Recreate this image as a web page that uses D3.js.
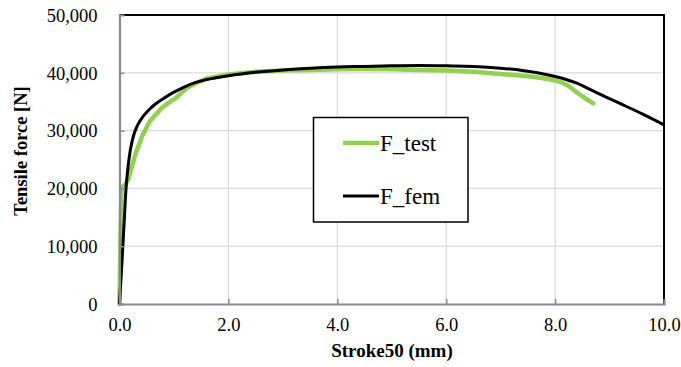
<!DOCTYPE html>
<html>
<head>
<meta charset="utf-8">
<script src="https://cdn.jsdelivr.net/npm/d3@7"></script>
<style>
  html, body { margin: 0; padding: 0; background: #fff; }
  svg { display: block; }
</style>
</head>
<body>
<svg id="chart" width="681" height="367" font-family="Liberation Serif, Times New Roman, serif"></svg>
<script>
// Tensile test vs. FEM: force against stroke (mm)
const testStroke = [0, 0.01, 0.02, 0.03, 0.04, 0.1, 0.16, 0.22, 0.27, 0.31, 0.36, 0.42, 0.46, 0.5, 0.55, 0.62, 0.7, 0.77, 0.9, 1.03, 1.12, 1.23, 1.4, 1.6, 2.0, 2.5, 3.0, 3.5, 4.0, 4.5, 5.0, 5.5, 6.0, 6.5, 7.0, 7.5, 7.75, 8.0, 8.1, 8.25, 8.4, 8.55, 8.7];
const testForce  = [0, 6000, 12000, 17000, 20200, 20600, 21500, 23500, 25200, 26400, 27600, 29200, 29800, 30600, 31500, 32300, 33100, 33860, 34800, 35600, 36400, 37300, 38200, 39000, 39700, 40200, 40400, 40500, 40600, 40650, 40600, 40500, 40400, 40200, 39800, 39400, 39100, 38700, 38400, 37700, 36600, 35600, 34700];

const femStroke = [0, 0.05, 0.09, 0.12, 0.16, 0.2, 0.26, 0.33, 0.42, 0.52, 0.66, 0.84, 1.0, 1.14, 1.3, 1.5, 1.75, 2.0, 2.5, 3.0, 3.5, 4.0, 4.5, 5.0, 5.5, 6.0, 6.5, 7.0, 7.4, 7.7, 8.0, 8.2, 8.4, 8.6, 8.83, 9.2, 9.6, 10.0];
const femForce  = [0, 8000, 15000, 20000, 24000, 26700, 29200, 30900, 32300, 33400, 34600, 35750, 36650, 37300, 38000, 38600, 39100, 39500, 40100, 40500, 40800, 41000, 41100, 41200, 41250, 41200, 41100, 40800, 40400, 39950, 39350, 38850, 38200, 37300, 36250, 34650, 32900, 31000];

const xTicks = [0, 2, 4, 6, 8, 10];
const yTicks = [0, 10000, 20000, 30000, 40000, 50000];
const seriesNames = ["F_test", "F_fem"];
const seriesColors = ["#92d050", "#000000"];

const SERIF = "Liberation Serif, Times New Roman, serif";
const plot = { left: 119.5, right: 664, top: 15, bottom: 304 };

const svg = d3.select("#chart");
const x = d3.scaleLinear().domain([0, 10]).range([plot.left, plot.right]);
const y = d3.scaleLinear().domain([0, 50000]).range([plot.bottom, plot.top]);

// grid
const grid = svg.append("g");
grid.selectAll("line.v").data(xTicks.slice(1, -1)).join("line")
  .attr("x1", d => x(d)).attr("x2", d => x(d))
  .attr("y1", plot.top).attr("y2", plot.bottom)
  .attr("stroke", "#d9d9d9").attr("stroke-width", 1.2);
grid.selectAll("line.h").data(yTicks.slice(1, -1)).join("line")
  .attr("x1", plot.left).attr("x2", plot.right)
  .attr("y1", d => y(d)).attr("y2", d => y(d))
  .attr("stroke", "#d9d9d9").attr("stroke-width", 1.2);

// plot frame (top and right)
svg.append("path")
  .attr("d", `M${plot.left},${plot.top}H${plot.right}V${plot.bottom}`)
  .attr("fill", "none").attr("stroke", "#000").attr("stroke-width", 2);

// series
const toPts = (xs, ys) => xs.map((v, i) => [v, ys[i]]);

svg.append("path")
  .datum(toPts(testStroke, testForce))
  .attr("d", d3.line().x(d => x(d[0])).y(d => y(d[1])).curve(d3.curveLinear))
  .attr("fill", "none").attr("stroke", seriesColors[0])
  .attr("stroke-width", 4.5).attr("stroke-linejoin", "round").attr("stroke-linecap", "round");

svg.append("path")
  .datum(toPts(femStroke, femForce))
  .attr("d", d3.line().x(d => x(d[0])).y(d => y(d[1])).curve(d3.curveMonotoneX))
  .attr("fill", "none").attr("stroke", seriesColors[1])
  .attr("stroke-width", 3).attr("stroke-linejoin", "round");

// axes
const xAxis = d3.axisBottom(x).tickValues(xTicks).tickSize(-5).tickPadding(14)
  .tickFormat(d3.format(".1f"));
const yAxis = d3.axisLeft(y).tickValues(yTicks).tickSize(-5).tickPadding(22)
  .tickFormat(d => d === 0 ? "0" : d3.format(",")(d));

const gx = svg.append("g").attr("transform", `translate(0,${plot.bottom})`).call(xAxis);
const gy = svg.append("g").attr("transform", `translate(${plot.left},0)`).call(yAxis);

[gx, gy].forEach(g => {
  g.attr("font-family", SERIF).attr("font-size", 18.5);
  g.select(".domain").attr("stroke", "#898989").attr("stroke-width", 2.2);
  g.selectAll(".tick line").attr("stroke", "#898989").attr("stroke-width", 1.5);
  g.selectAll(".tick text").attr("fill", "#000");
});
gx.selectAll(".tick line").filter(d => d === 0 || d === 10).remove();
gy.selectAll(".tick line").filter(d => d === 0 || d === 50000).remove();
gy.selectAll(".tick text").attr("dy", "0.34em");

// axis titles
svg.append("text")
  .attr("transform", "translate(27,151) rotate(-90)")
  .attr("text-anchor", "middle")
  .attr("font-family", SERIF).attr("font-size", 18.5).attr("font-weight", "bold")
  .text("Tensile force [N]");
svg.append("text")
  .attr("x", 392).attr("y", 357)
  .attr("text-anchor", "middle")
  .attr("font-family", SERIF).attr("font-size", 19).attr("font-weight", "bold")
  .text("Stroke50 (mm)");

// legend
const legend = svg.append("g");
legend.append("rect")
  .attr("x", 313.5).attr("y", 117.5).attr("width", 154.5).attr("height", 104.5)
  .attr("fill", "#fff").attr("stroke", "#000").attr("stroke-width", 1.5);
const legendY = [143, 196];
seriesNames.forEach((name, i) => {
  legend.append("line")
    .attr("x1", 343).attr("x2", 379).attr("y1", legendY[i]).attr("y2", legendY[i])
    .attr("stroke", seriesColors[i]).attr("stroke-width", i === 0 ? 4.5 : 3);
  legend.append("text")
    .attr("x", 380).attr("y", legendY[i] + 8)
    .attr("font-family", SERIF).attr("font-size", 23)
    .text(name);
});
</script>
</body>
</html>
